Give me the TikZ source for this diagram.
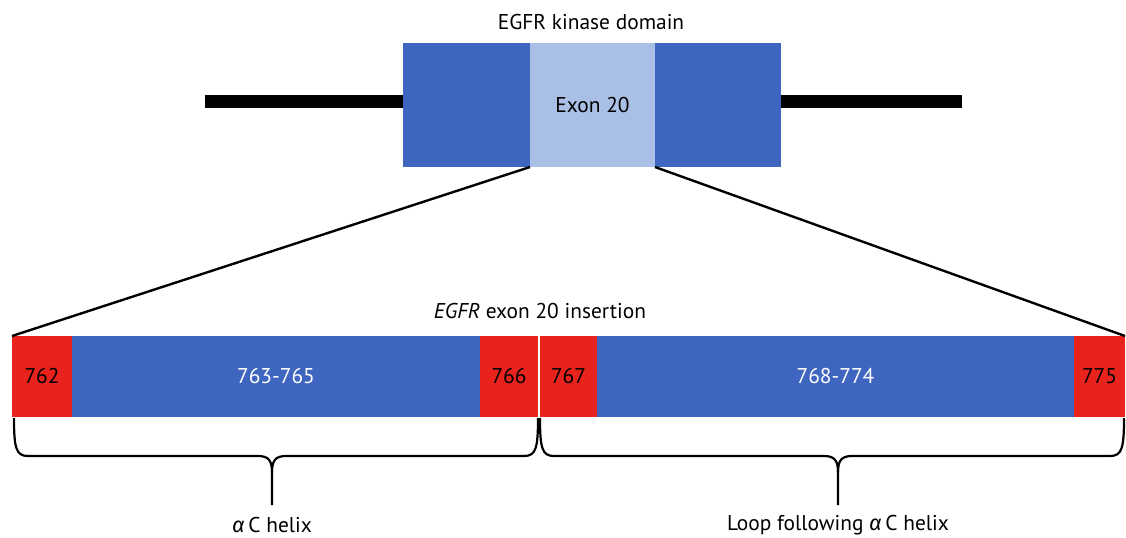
\documentclass[tikz,border=0pt]{standalone}
\usepackage{fontspec}
\setmainfont{PT Sans}
\newfontfamily\greekfont{Fira Sans}
\usetikzlibrary{positioning, calc}
\definecolor{kdblue}{RGB}{62,101,192}
\definecolor{exonblue}{RGB}{170,191,230}
\definecolor{insred}{RGB}{232,35,30}
\newcommand{\ahelix}{{\greekfont\itshape α}\,C}

\begin{document}
\begin{tikzpicture}[x=0.5pt, y=-0.5pt, font=\fontsize{10.7}{12.5}\selectfont,
	domainbox/.style={inner sep=0pt, outer sep=0pt, minimum height=62pt},
	segbox/.style={inner sep=0pt, outer sep=0pt, minimum height=40.5pt},
	redseg/.style={segbox, fill=insred, text=black},
	blueseg/.style={segbox, fill=kdblue, text=white},
	bracepath/.style={line width=1.1pt, black}]
	\useasboundingbox (0,0) rectangle (1126,537);
	% kinase domain
	\node[domainbox, fill=kdblue, minimum width=63.5pt, anchor=north west] (kdL) at (403,43) {};
	\node[domainbox, fill=exonblue, minimum width=62.5pt, right=0pt of kdL] (exon) {Exon 20};
	\node[domainbox, fill=kdblue, minimum width=63pt, right=0pt of exon] (kdR) {};
	\node (title) at (591,22) {EGFR kinase domain};
	\coordinate (lineL) at (205,101);
	\coordinate (lineR) at (962,101);
	\draw[line width=6.5pt] (lineL) -- (lineL -| kdL.west);
	\draw[line width=6.5pt] (lineR -| kdR.east) -- (lineR);
	% insertion bar
	\node[redseg, minimum width=30pt, anchor=north west] (seg762) at (12,336) {762};
	\node[blueseg, minimum width=204pt, right=0pt of seg762] (seg763) {763-765};
	\node[redseg, minimum width=29pt, right=0pt of seg763] (seg766) {766};
	\node[redseg, minimum width=28.5pt, right=1pt of seg766] (seg767) {767};
	\node[blueseg, minimum width=238.5pt, right=0pt of seg767] (seg768) {768-774};
	\node[redseg, minimum width=25.5pt, right=0pt of seg768] (seg775) {775};
	\node (institle) at (540,311) {\textit{EGFR} exon 20 insertion};
	\draw[line width=1.2pt] (exon.south west) -- (seg762.north west);
	\draw[line width=1.2pt] (exon.south east) -- (seg775.north east);
	% braces
	\draw[bracepath] (14,418) .. controls (14,448) and (16,456) .. (28,456) -- (258,456)
		.. controls (268,456) and (272,460) .. (272,472) -- (272,505);
	\draw[bracepath] (272,472) .. controls (272,460) and (276,456) .. (286,456) -- (524,456)
		.. controls (536,456) and (538,448) .. (538,418);
	\draw[bracepath] (540,418) .. controls (540,448) and (542,456) .. (554,456) -- (824,456)
		.. controls (834,456) and (838,460) .. (838,472) -- (838,505);
	\draw[bracepath] (838,472) .. controls (838,460) and (842,456) .. (852,456) -- (1110,456)
		.. controls (1122,456) and (1124,448) .. (1124,418);
	\node (helixlabel) at (272,525) {\ahelix\ helix};
	\node (looplabel) at (838,525) {Loop following \ahelix\ helix};
\end{tikzpicture}
\end{document}
